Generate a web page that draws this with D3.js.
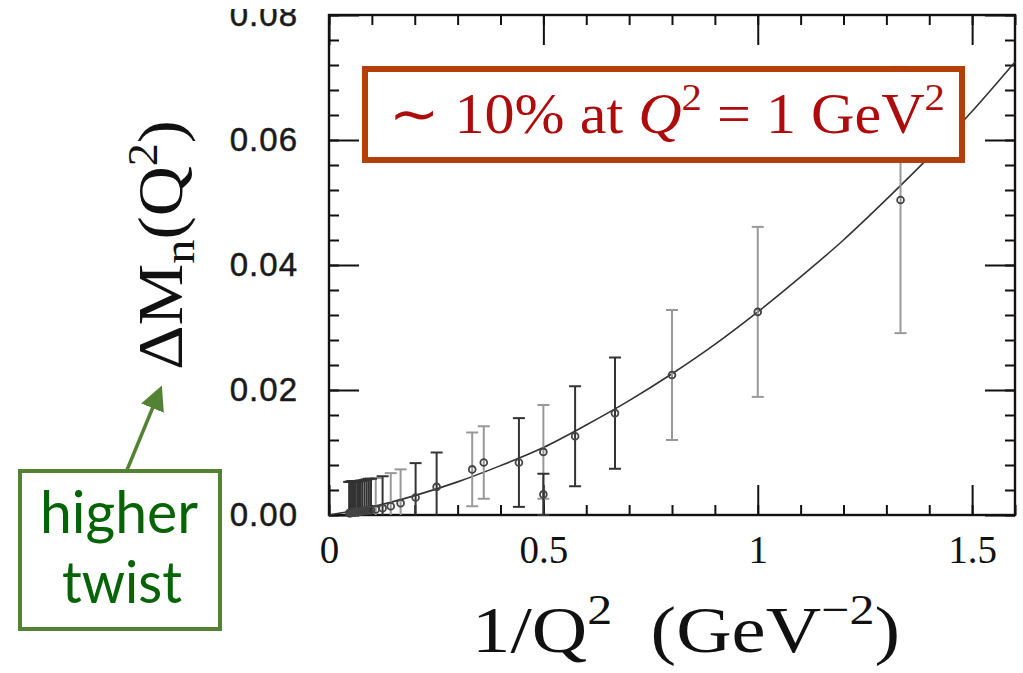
<!DOCTYPE html>
<html>
<head>
<meta charset="UTF-8">
<title>higher twist</title>
<script src="https://cdn.jsdelivr.net/npm/d3@7/dist/d3.min.js"></script>
<style>
  body { margin: 0; background: #fff; }
  svg { display: block; }
</style>
</head>
<body>
<script>

// dark data set: x = 1/Q^2, y = delta M_n, e = error
var darkX = [0.047, 0.050, 0.053, 0.056, 0.059, 0.062, 0.066, 0.070, 0.074, 0.078, 0.083, 0.088, 0.093, 0.098,
             0.125, 0.202, 0.251, 0.443, 0.500, 0.574, 0.667];
var darkY = [0.0003, 0.0003, 0.0004, 0.0004, 0.0004, 0.0005, 0.0005, 0.0005, 0.0006, 0.0006, 0.0007, 0.0007, 0.0008, 0.0008,
             0.0011, 0.0028, 0.0045, 0.0084, 0.0033, 0.0126, 0.0163];
var darkE = [0.0050, 0.0050, 0.0050, 0.0050, 0.0050, 0.0049, 0.0049, 0.0049, 0.0049, 0.0049, 0.0049, 0.0050, 0.0050, 0.0050,
             0.0051, 0.0055, 0.0055, 0.0071, 0.0033, 0.0080, 0.0089];

// gray data set
var grayX = [0.109, 0.144, 0.167, 0.334, 0.361, 0.500, 0.800, 1.000, 1.333];
var grayY = [0.0009, 0.0014, 0.0019, 0.0073, 0.0084, 0.0101, 0.0224, 0.0325, 0.0504];
var grayE = [0.0050, 0.0053, 0.0054, 0.0059, 0.0058, 0.0075, 0.0104, 0.0136, 0.0213];

// fitted curve
var fitX = [0, 0.1, 0.2, 0.3, 0.4, 0.5, 0.6, 0.7, 0.8, 0.9, 1.0, 1.1, 1.2, 1.3, 1.4, 1.5, 1.6];
var fitY = [0, 0.0013, 0.0031, 0.0053, 0.0079, 0.0108, 0.0144, 0.0183, 0.0226, 0.0273, 0.0325, 0.0381, 0.0440, 0.0505, 0.0573, 0.0646, 0.0725];

var xMajor = [0, 0.5, 1, 1.5];
var xMinor = d3.range(0, 17).map(function(i){ return i / 10; });
var yMajor = [0, 0.02, 0.04, 0.06, 0.08];
var yMinor = d3.range(0, 21).map(function(i){ return i * 0.004; });

var W = 1023, H = 673;
var L = 329, R = 1015, T = 15, B = 515;

var svg = d3.select("body").append("svg")
    .attr("width", W)
    .attr("height", H);

var x = d3.scaleLinear().domain([0, 1.6]).range([L, R]);
var y = d3.scaleLinear().domain([0, 0.08]).range([B, T]);

// the top of the original picture is cropped a little
svg.append("defs").append("clipPath")
    .attr("id", "cropTop")
    .attr("clipPathUnits", "userSpaceOnUse")
    .append("rect")
    .attr("x", -400).attr("y", 9).attr("width", 800).attr("height", H);

// ticks on all four sides, pointing inward
function ticks(axis, tx, ty, vals, size, fmt) {
    var g = svg.append("g")
        .attr("transform", "translate(" + tx + "," + ty + ")")
        .call(axis.tickValues(vals).tickSize(size).tickFormat(fmt || ""));
    g.select(".domain").remove();
    g.selectAll(".tick line").attr("stroke", "#111").attr("stroke-width", 2);
    return g;
}

ticks(d3.axisBottom(x), 0, B, xMinor, -10);
ticks(d3.axisTop(x), 0, T, xMinor, -10);
ticks(d3.axisLeft(y), L, 0, yMinor, -10);
ticks(d3.axisRight(y), R, 0, yMinor, -10);
ticks(d3.axisTop(x), 0, T, xMajor, -30);
ticks(d3.axisRight(y), R, 0, yMajor, -30);

var xg = ticks(d3.axisBottom(x), 0, B, xMajor, -30, function(d){ return d; });
xg.selectAll("text")
    .attr("y", 20)
    .attr("font-family", "Liberation Serif, serif")
    .attr("font-size", 39)
    .attr("fill", "#111");

var yg = ticks(d3.axisLeft(y).tickPadding(31), L, 0, yMajor, -30, d3.format(".2f"));
yg.attr("clip-path", "url(#cropTop)");
yg.selectAll("text")
    .attr("font-family", "Liberation Sans, Arial, sans-serif")
    .attr("font-size", 33)
    .attr("letter-spacing", 1)
    .attr("fill", "#1a1a1a")
    .attr("stroke", "#1a1a1a")
    .attr("stroke-width", 0.5);

// frame
svg.append("rect")
    .attr("x", L).attr("y", T)
    .attr("width", R - L).attr("height", B - T)
    .attr("fill", "none")
    .attr("stroke", "#111")
    .attr("stroke-width", 2.4);

// fitted curve
var fit = fitX.map(function(d, i){ return [d, fitY[i]]; });
svg.append("path")
    .datum(fit)
    .attr("fill", "none")
    .attr("stroke", "#333")
    .attr("stroke-width", 1.6)
    .attr("d", d3.line()
        .x(function(d){ return x(d[0]); })
        .y(function(d){ return y(d[1]); })
        .curve(d3.curveMonotoneX));

// error bars + points
function points(xs, ys, es, color) {
    var data = xs.map(function(d, i){ return {x: d, y: ys[i], e: es[i]}; });
    var g = svg.append("g").selectAll("g")
        .data(data)
        .enter()
        .append("g")
        .attr("stroke", color)
        .attr("stroke-width", 2);
    g.append("line")
        .attr("x1", function(d){ return x(d.x); })
        .attr("x2", function(d){ return x(d.x); })
        .attr("y1", function(d){ return y(Math.max(d.y - d.e, 0)); })
        .attr("y2", function(d){ return y(d.y + d.e); });
    g.append("line")
        .attr("x1", function(d){ return x(d.x) - 6; })
        .attr("x2", function(d){ return x(d.x) + 6; })
        .attr("y1", function(d){ return y(d.y + d.e); })
        .attr("y2", function(d){ return y(d.y + d.e); });
    g.append("line")
        .attr("x1", function(d){ return x(d.x) - 6; })
        .attr("x2", function(d){ return x(d.x) + 6; })
        .attr("y1", function(d){ return y(d.y - d.e); })
        .attr("y2", function(d){ return y(d.y - d.e); })
        .attr("display", function(d){ return d.y - d.e < 0 ? "none" : null; });
    g.append("circle")
        .attr("cx", function(d){ return x(d.x); })
        .attr("cy", function(d){ return y(d.y); })
        .attr("r", 3.4)
        .attr("fill", "none")
        .attr("stroke", "#444")
        .attr("stroke-width", 1.8);
}

points(grayX, grayY, grayE, "#999");
points(darkX, darkY, darkE, "#333");

// red annotation box
svg.append("rect")
    .attr("x", 365).attr("y", 69)
    .attr("width", 597).attr("height", 91)
    .attr("fill", "#fff")
    .attr("stroke", "#b3400b")
    .attr("stroke-width", 6);

var note = svg.append("text")
    .attr("x", 389).attr("y", 133)
    .attr("textLength", 556).attr("lengthAdjust", "spacingAndGlyphs")
    .attr("font-family", "Liberation Serif, serif")
    .attr("font-size", 56)
    .attr("fill", "#ad0c0c");
note.append("tspan").text("\u223C 10% at ");
note.append("tspan").attr("font-style", "italic").text("Q");
note.append("tspan").attr("font-size", 38).attr("dy", -23).text("2");
note.append("tspan").attr("dy", 23).text(" = 1 GeV");
note.append("tspan").attr("font-size", 38).attr("dy", -23).text("2");

// y axis title
var yt = svg.append("text")
    .attr("transform", "translate(182,370) rotate(-90)")
    .attr("textLength", 250).attr("lengthAdjust", "spacingAndGlyphs")
    .attr("font-family", "Liberation Serif, serif")
    .attr("font-size", 63)
    .attr("fill", "#111");
yt.append("tspan").text("\u0394M");
yt.append("tspan").attr("font-size", 44).attr("dy", 12).text("n");
yt.append("tspan").attr("dy", -12).text("(Q");
yt.append("tspan").attr("font-size", 42).attr("dy", -25).text("2");
yt.append("tspan").attr("dy", 25).text(")");

// x axis title
var xt = svg.append("text")
    .attr("x", 472).attr("y", 652)
    .attr("textLength", 428).attr("lengthAdjust", "spacingAndGlyphs")
    .attr("font-family", "Liberation Serif, serif")
    .attr("font-size", 66)
    .attr("fill", "#111");
xt.append("tspan").text("1/Q");
xt.append("tspan").attr("font-size", 43).attr("dy", -28).text("2");
xt.append("tspan").attr("dy", 28).text("\u2002(GeV");
xt.append("tspan").attr("font-size", 43).attr("dy", -28).text("\u22122");
xt.append("tspan").attr("dy", 28).text(")");

// green label with arrow
var green = "#548235";
svg.append("defs").append("marker")
    .attr("id", "head")
    .attr("viewBox", "0 0 10 10")
    .attr("refX", 8).attr("refY", 5)
    .attr("markerWidth", 7).attr("markerHeight", 7)
    .attr("markerUnits", "strokeWidth")
    .attr("orient", "auto")
    .append("path")
    .attr("d", "M0,0 L10,5 L0,10 Z")
    .attr("fill", green);

svg.append("line")
    .attr("x1", 127).attr("y1", 470)
    .attr("x2", 160).attr("y2", 390)
    .attr("stroke", green)
    .attr("stroke-width", 3.5)
    .attr("marker-end", "url(#head)");

svg.append("rect")
    .attr("x", 20).attr("y", 471)
    .attr("width", 200).attr("height", 158)
    .attr("fill", "#fff")
    .attr("stroke", green)
    .attr("stroke-width", 4);

svg.append("text")
    .attr("x", 40).attr("y", 533)
    .attr("textLength", 158).attr("lengthAdjust", "spacingAndGlyphs")
    .attr("font-family", "Lato, sans-serif")
    .attr("font-size", 58)
    .attr("fill", "#066306")
    .text("higher");

svg.append("text")
    .attr("x", 62).attr("y", 603)
    .attr("textLength", 120).attr("lengthAdjust", "spacingAndGlyphs")
    .attr("font-family", "Lato, sans-serif")
    .attr("font-size", 58)
    .attr("fill", "#066306")
    .text("twist");

</script>
</body>
</html>
